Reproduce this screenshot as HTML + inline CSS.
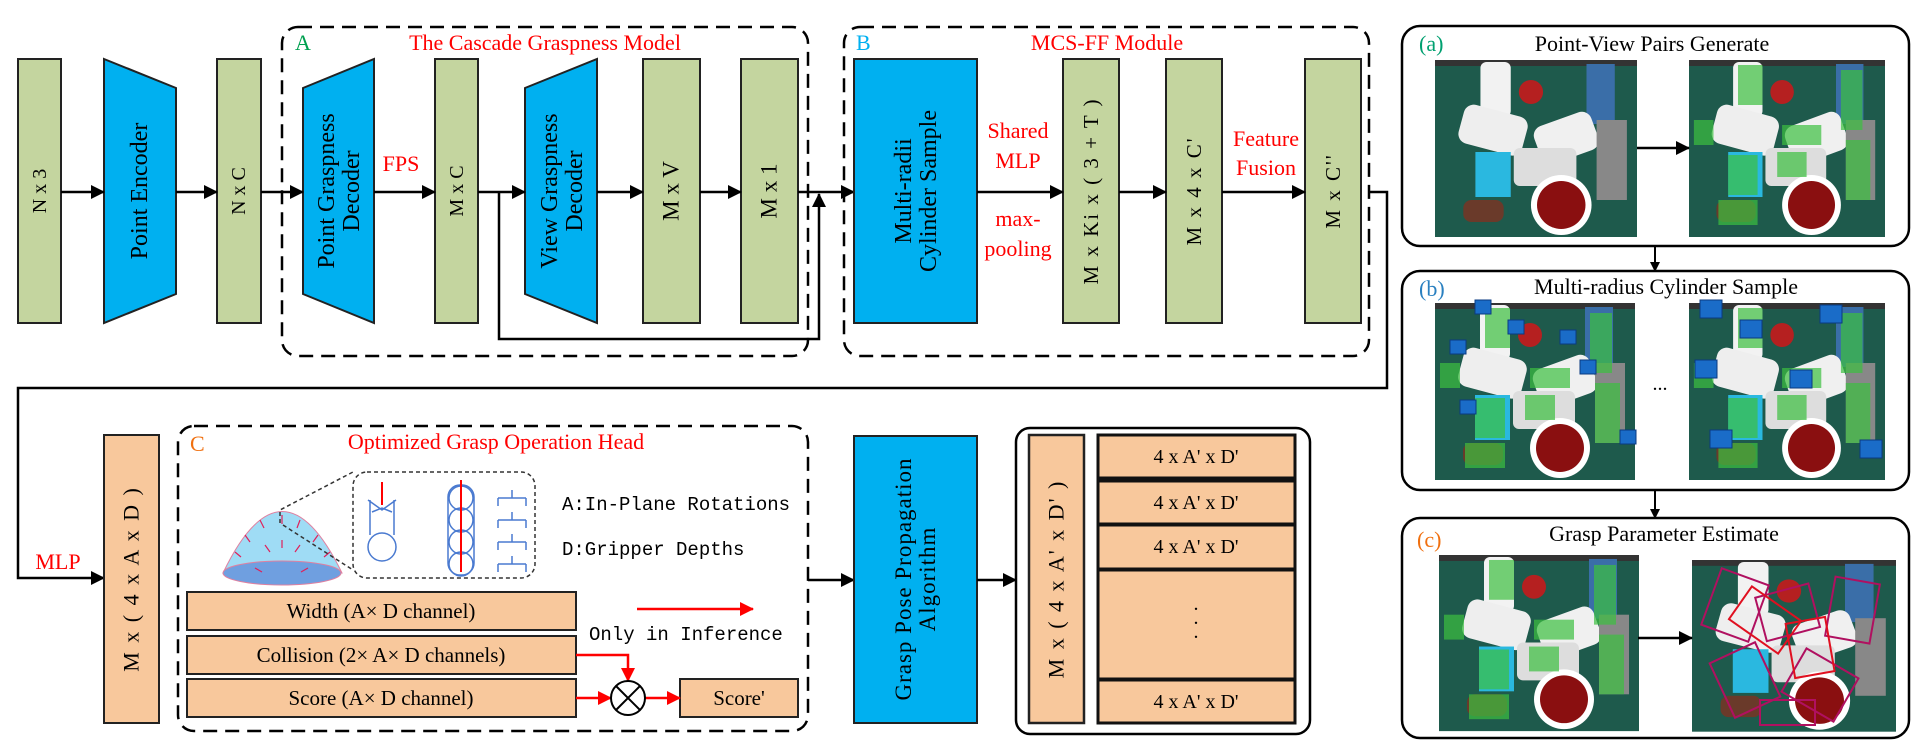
<!DOCTYPE html>
<html><head><meta charset="utf-8"><style>
html,body{margin:0;padding:0;background:#fff;}
svg{display:block;}
text{font-family:"Liberation Serif",serif;}
.m{font-family:"Liberation Mono",monospace;}
</style></head><body>
<svg width="1920" height="756" viewBox="0 0 1920 756" xmlns="http://www.w3.org/2000/svg">
<defs>
<marker id="ah" markerWidth="10" markerHeight="10" refX="9" refY="5" orient="auto" markerUnits="userSpaceOnUse"><path d="M0,0 L10,5 L0,10 z" fill="#000"/></marker>
<marker id="ahb" markerWidth="14" markerHeight="14" refX="13" refY="7" orient="auto" markerUnits="userSpaceOnUse"><path d="M0,0 L14,7 L0,14 z" fill="#000"/></marker>
<marker id="ahr" markerWidth="14" markerHeight="14" refX="13" refY="7" orient="auto" markerUnits="userSpaceOnUse"><path d="M0,0 L14,7 L0,14 z" fill="#f00"/></marker>
<g id="photo">
<rect x="0" y="0" width="200" height="177" fill="#1e5a4c"/>
<rect x="0" y="0" width="200" height="6" fill="#333"/>
<rect x="45" y="2" width="30" height="55" fill="#f2f2f2" rx="6"/>
<circle cx="95" cy="32" r="12" fill="#b52020"/>
<rect x="150" y="4" width="28" height="60" fill="#3a6ea8"/>
<rect x="25" y="50" width="65" height="40" fill="#eee" rx="10" transform="rotate(15 57 70)"/>
<rect x="100" y="58" width="60" height="40" fill="#f0f0f0" rx="10" transform="rotate(-20 130 78)"/>
<rect x="160" y="60" width="30" height="80" fill="#888"/>
<rect x="40" y="92" width="35" height="45" fill="#2ab8e0"/>
<rect x="78" y="88" width="62" height="38" fill="#ddd" rx="6"/>
<circle cx="125" cy="145" r="30" fill="#fff"/>
<circle cx="125" cy="145" r="24" fill="#8a0f10"/>
<rect x="28" y="140" width="40" height="22" fill="#6a3a2a" rx="8"/>
</g>
<g id="greens" fill="#3cc040" opacity="0.7">
<rect x="50" y="5" width="25" height="40"/><rect x="95" y="65" width="40" height="20"/><rect x="155" y="10" width="22" height="60"/>
<rect x="40" y="95" width="30" height="40"/><rect x="160" y="80" width="25" height="60"/><rect x="30" y="140" width="40" height="25"/>
<rect x="90" y="92" width="30" height="25"/><rect x="5" y="60" width="20" height="25"/>
</g>
</defs>

<!-- Top row -->
<rect x="18" y="59" width="43" height="264" fill="#c4d59f" stroke="#222" stroke-width="2"/>
<text transform="translate(40,191) rotate(-90)" text-anchor="middle" dominant-baseline="central" font-size="20">N  x  3</text>
<polygon points="104,59 176,88 176,294 104,323" fill="#00b0f0" stroke="#222" stroke-width="2"/>
<text transform="translate(140,191) rotate(-90)" text-anchor="middle" dominant-baseline="central" font-size="24">Point Encoder</text>
<rect x="217" y="59" width="44" height="264" fill="#c4d59f" stroke="#222" stroke-width="2"/>
<text transform="translate(239,191) rotate(-90)" text-anchor="middle" dominant-baseline="central" font-size="20">N  x  C</text>
<polygon points="303,88 374,59 374,323 303,294" fill="#00b0f0" stroke="#222" stroke-width="2"/>
<text transform="translate(338,191) rotate(-90)" text-anchor="middle" font-size="24"><tspan x="0" y="-4">Point Graspness</tspan><tspan x="0" y="21">Decoder</tspan></text>
<rect x="435" y="59" width="43" height="264" fill="#c4d59f" stroke="#222" stroke-width="2"/>
<text transform="translate(457,191) rotate(-90)" text-anchor="middle" dominant-baseline="central" font-size="20">M  x  C</text>
<polygon points="525,88 597,59 597,323 525,294" fill="#00b0f0" stroke="#222" stroke-width="2"/>
<text transform="translate(561,191) rotate(-90)" text-anchor="middle" font-size="24"><tspan x="0" y="-4">View Graspness</tspan><tspan x="0" y="21">Decoder</tspan></text>
<rect x="643" y="59" width="57" height="264" fill="#c4d59f" stroke="#222" stroke-width="2"/>
<text transform="translate(671,191) rotate(-90)" text-anchor="middle" dominant-baseline="central" font-size="23">M x V</text>
<rect x="741" y="59" width="57" height="264" fill="#c4d59f" stroke="#222" stroke-width="2"/>
<text transform="translate(769,191) rotate(-90)" text-anchor="middle" dominant-baseline="central" font-size="23">M x 1</text>

<g stroke="#000" stroke-width="2.5" fill="none">
<line x1="61" y1="192" x2="104" y2="192" marker-end="url(#ahb)"/>
<line x1="176" y1="192" x2="217" y2="192" marker-end="url(#ahb)"/>
<line x1="261" y1="192" x2="303" y2="192" marker-end="url(#ahb)"/>
<line x1="374" y1="192" x2="435" y2="192" marker-end="url(#ahb)"/>
<line x1="478" y1="192" x2="525" y2="192" marker-end="url(#ahb)"/>
<line x1="597" y1="192" x2="643" y2="192" marker-end="url(#ahb)"/>
<line x1="700" y1="192" x2="741" y2="192" marker-end="url(#ahb)"/>
<line x1="798" y1="192" x2="854" y2="192" marker-end="url(#ahb)"/>
<polyline points="499,192 499,339 819,339 819,194" marker-end="url(#ahb)"/>
</g>
<text x="401" y="171" font-size="22" fill="#f00" text-anchor="middle">FPS</text>

<rect x="282" y="27" width="526" height="329" rx="16" fill="none" stroke="#000" stroke-width="2.5" stroke-dasharray="14 8"/>
<text x="295" y="50" font-size="22" fill="#00a050">A</text>
<text x="545" y="50" font-size="22" fill="#f00" text-anchor="middle">The Cascade Graspness Model</text>

<!-- B -->
<rect x="844" y="27" width="525" height="329" rx="16" fill="none" stroke="#000" stroke-width="2.5" stroke-dasharray="14 8"/>
<text x="856" y="50" font-size="22" fill="#00b0f0">B</text>
<text x="1107" y="50" font-size="22" fill="#f00" text-anchor="middle">MCS-FF Module</text>
<rect x="854" y="59" width="123" height="264" fill="#00b0f0" stroke="#222" stroke-width="2"/>
<text transform="translate(915,191) rotate(-90)" text-anchor="middle" font-size="24"><tspan x="0" y="-4">Multi-radii</tspan><tspan x="0" y="21">Cylinder Sample</tspan></text>
<rect x="1063" y="59" width="56" height="264" fill="#c4d59f" stroke="#222" stroke-width="2"/>
<text transform="translate(1091,191) rotate(-90)" text-anchor="middle" dominant-baseline="central" font-size="21" letter-spacing="2">M x  Ki x ( 3 + T )</text>
<rect x="1166" y="59" width="56" height="264" fill="#c4d59f" stroke="#222" stroke-width="2"/>
<text transform="translate(1194,191) rotate(-90)" text-anchor="middle" dominant-baseline="central" font-size="21" letter-spacing="2">M  x 4 x C'</text>
<rect x="1305" y="59" width="56" height="264" fill="#c4d59f" stroke="#222" stroke-width="2"/>
<text transform="translate(1333,191) rotate(-90)" text-anchor="middle" dominant-baseline="central" font-size="21" letter-spacing="2">M x C''</text>
<g stroke="#000" stroke-width="2.5" fill="none">
<line x1="977" y1="192" x2="1063" y2="192" marker-end="url(#ahb)"/>
<line x1="1119" y1="192" x2="1166" y2="192" marker-end="url(#ahb)"/>
<line x1="1222" y1="192" x2="1305" y2="192" marker-end="url(#ahb)"/>
<polyline points="1369,192 1387,192 1387,388 18,388 18,578 104,578" marker-end="url(#ahb)"/>
</g>
<g font-size="22" fill="#f00" text-anchor="middle">
<text x="1018" y="138">Shared</text><text x="1018" y="168">MLP</text>
<text x="1018" y="226">max-</text><text x="1018" y="256">pooling</text>
<text x="1266" y="146">Feature</text><text x="1266" y="175">Fusion</text>
<text x="58" y="569">MLP</text>
</g>

<!-- C -->
<rect x="104" y="435" width="55" height="288" fill="#f8c89c" stroke="#222" stroke-width="2"/>
<text transform="translate(131,579) rotate(-90)" text-anchor="middle" dominant-baseline="central" font-size="22" letter-spacing="2">M x  ( 4 x A  x D )</text>
<rect x="178" y="426" width="630" height="305" rx="16" fill="none" stroke="#000" stroke-width="2.5" stroke-dasharray="14 8"/>
<text x="190" y="451" font-size="22" fill="#f07010">C</text>
<text x="496" y="449" font-size="22" fill="#f00" text-anchor="middle">Optimized Grasp Operation Head</text>
<!-- dome -->
<path d="M223,573 Q282,450 342,573 Z" fill="#9fdcf5" stroke="#e080a0"/>
<ellipse cx="282" cy="573" rx="59" ry="12" fill="#6f9fe0" stroke="#e080a0"/>
<g stroke="#e0205a" stroke-width="1.2">
<line x1="260" y1="520" x2="264" y2="528"/><line x1="282" y1="515" x2="282" y2="524"/><line x1="300" y1="520" x2="297" y2="528"/>
<line x1="245" y1="535" x2="250" y2="542"/><line x1="318" y1="535" x2="313" y2="542"/><line x1="235" y1="552" x2="241" y2="557"/>
<line x1="330" y1="552" x2="324" y2="557"/><line x1="265" y1="545" x2="270" y2="552"/><line x1="300" y1="545" x2="295" y2="552"/>
<line x1="282" y1="540" x2="282" y2="548"/><line x1="255" y1="568" x2="262" y2="572"/><line x1="308" y1="568" x2="301" y2="572"/>
</g>
<rect x="353" y="472" width="182" height="106" rx="14" fill="none" stroke="#333" stroke-width="1.5" stroke-dasharray="4 3"/>
<polyline points="280,523 280,510 353,472" fill="none" stroke="#333" stroke-width="1.5" stroke-dasharray="4 3"/>
<line x1="283" y1="525" x2="353" y2="570" stroke="#333" stroke-width="1.5" stroke-dasharray="4 3"/>
<g stroke="#4a7ad0" stroke-width="1.5" fill="none">
<circle cx="382" cy="547" r="14"/>
<path d="M368,500 L382,510 L396,500 M372,512 L382,508 L392,512 M370,500 L370,535 M394,500 L394,535"/>
<rect x="448" y="485" width="26" height="90" rx="12"/>
<circle cx="461" cy="498" r="12"/><circle cx="461" cy="520" r="12"/><circle cx="461" cy="542" r="12"/><circle cx="461" cy="564" r="12"/>
<path d="M498,498 h28 M512,490 v8 M498,498 v8 M526,498 v8 M498,520 h28 M512,512 v8 M498,520 v8 M526,520 v8 M498,542 h28 M512,534 v8 M498,542 v8 M526,542 v8 M498,564 h28 M512,556 v8 M498,564 v8 M526,564 v8"/>
</g>
<line x1="382" y1="482" x2="382" y2="505" stroke="#f00" stroke-width="2"/>
<line x1="461" y1="480" x2="461" y2="572" stroke="#f00" stroke-width="2"/>
<text x="562" y="510" font-size="19" class="m">A:In-Plane Rotations</text>
<text x="562" y="555" font-size="19" class="m">D:Gripper Depths</text>
<rect x="187" y="592" width="389" height="38" fill="#f8c89c" stroke="#222" stroke-width="2"/>
<text x="381" y="618" font-size="21" text-anchor="middle">Width (A× D channel)</text>
<rect x="187" y="636" width="389" height="38" fill="#f8c89c" stroke="#222" stroke-width="2"/>
<text x="381" y="662" font-size="21" text-anchor="middle">Collision (2× A× D channels)</text>
<rect x="187" y="679" width="389" height="38" fill="#f8c89c" stroke="#222" stroke-width="2"/>
<text x="381" y="705" font-size="21" text-anchor="middle">Score (A× D channel)</text>
<rect x="680" y="679" width="118" height="38" fill="#f8c89c" stroke="#222" stroke-width="2"/>
<text x="739" y="705" font-size="21" text-anchor="middle">Score'</text>
<line x1="637" y1="609" x2="753" y2="609" stroke="#f00" stroke-width="2.5" marker-end="url(#ahr)"/>
<text x="589" y="640" font-size="19" class="m">Only in Inference</text>
<g stroke="#f00" stroke-width="2.5" fill="none">
<polyline points="576,655 628,655 628,681" marker-end="url(#ahr)"/>
<line x1="576" y1="698" x2="611" y2="698" marker-end="url(#ahr)"/>
<line x1="645" y1="698" x2="680" y2="698" marker-end="url(#ahr)"/>
</g>
<circle cx="628" cy="698" r="17" fill="#fff" stroke="#000" stroke-width="2"/>
<path d="M616,686 L640,710 M640,686 L616,710" stroke="#000" stroke-width="2"/>

<line x1="808" y1="580" x2="854" y2="580" stroke="#000" stroke-width="2.5" marker-end="url(#ahb)"/>
<rect x="854" y="436" width="123" height="287" fill="#00b0f0" stroke="#222" stroke-width="2"/>
<text transform="translate(915,579) rotate(-90)" text-anchor="middle" font-size="23" letter-spacing="1"><tspan x="0" y="-4">Grasp Pose Propagation</tspan><tspan x="0" y="20">Algorithm</tspan></text>
<line x1="977" y1="580" x2="1016" y2="580" stroke="#000" stroke-width="2.5" marker-end="url(#ahb)"/>

<rect x="1016" y="428" width="294" height="306" rx="14" fill="none" stroke="#000" stroke-width="2.5"/>
<rect x="1029" y="435" width="55" height="288" fill="#f8c89c" stroke="#222" stroke-width="2.5"/>
<text transform="translate(1056,579) rotate(-90)" text-anchor="middle" dominant-baseline="central" font-size="22" letter-spacing="2">M x  ( 4 x A' x D' )</text>
<g fill="#f8c89c" stroke="#111" stroke-width="3">
<rect x="1098" y="435" width="197" height="43"/>
<rect x="1098" y="481" width="197" height="43"/>
<rect x="1098" y="525" width="197" height="44"/>
<rect x="1098" y="570" width="197" height="109"/>
<rect x="1098" y="680" width="197" height="43"/>
</g>
<g font-size="20" text-anchor="middle" class="m">
<text x="1196" y="463">4 x A' x D'</text>
<text x="1196" y="509">4 x A' x D'</text>
<text x="1196" y="553">4 x A' x D'</text>
<text x="1196" y="708">4 x A' x D'</text>
</g>
<text x="1196" y="610" font-size="20" text-anchor="middle">.</text>
<text x="1196" y="624" font-size="20" text-anchor="middle">.</text>
<text x="1196" y="638" font-size="20" text-anchor="middle">.</text>

<!-- right panels -->
<rect x="1402" y="26" width="507" height="220" rx="18" fill="none" stroke="#000" stroke-width="2.5"/>
<text x="1419" y="51" font-size="22" fill="#00a070">(a)</text>
<text x="1652" y="51" font-size="22" text-anchor="middle">Point-View Pairs Generate</text>
<use href="#photo" transform="translate(1435,60) scale(1.01,1)"/>
<use href="#photo" transform="translate(1689,60) scale(0.98,1)"/>
<use href="#greens" transform="translate(1689,60) scale(0.98,1)"/>
<line x1="1637" y1="148" x2="1689" y2="148" stroke="#000" stroke-width="2.5" marker-end="url(#ahb)"/>
<line x1="1655" y1="246" x2="1655" y2="271" stroke="#000" stroke-width="2" marker-end="url(#ah)"/>

<rect x="1402" y="271" width="507" height="219" rx="18" fill="none" stroke="#000" stroke-width="2.5"/>
<text x="1419" y="296" font-size="22" fill="#2a80c0">(b)</text>
<text x="1666" y="294" font-size="22" text-anchor="middle">Multi-radius Cylinder Sample</text>
<use href="#photo" transform="translate(1435,303)"/>
<use href="#greens" transform="translate(1435,303)"/>
<use href="#photo" transform="translate(1689,303) scale(0.98,1)"/>
<use href="#greens" transform="translate(1689,303) scale(0.98,1)"/>
<g fill="#1a6cc8" stroke="#0a3a80">
<rect x="1475" y="300" width="16" height="14"/><rect x="1508" y="320" width="16" height="14"/><rect x="1450" y="340" width="16" height="14"/>
<rect x="1560" y="330" width="16" height="14"/><rect x="1580" y="360" width="16" height="14"/><rect x="1460" y="400" width="16" height="14"/>
<rect x="1620" y="430" width="16" height="14"/><rect x="1700" y="300" width="22" height="18"/><rect x="1740" y="320" width="22" height="18"/>
<rect x="1820" y="305" width="22" height="18"/><rect x="1695" y="360" width="22" height="18"/><rect x="1790" y="370" width="22" height="18"/>
<rect x="1860" y="440" width="22" height="18"/><rect x="1710" y="430" width="22" height="18"/>
</g>
<text x="1660" y="390" font-size="20" text-anchor="middle">...</text>
<line x1="1655" y1="490" x2="1655" y2="518" stroke="#000" stroke-width="2" marker-end="url(#ah)"/>

<rect x="1402" y="518" width="507" height="220" rx="18" fill="none" stroke="#000" stroke-width="2.5"/>
<text x="1417" y="547" font-size="22" fill="#f07010">(c)</text>
<text x="1664" y="541" font-size="22" text-anchor="middle">Grasp Parameter  Estimate</text>
<use href="#photo" transform="translate(1439,555) scale(1,0.995)"/>
<use href="#greens" transform="translate(1439,555) scale(1,0.995)"/>
<use href="#photo" transform="translate(1692,560) scale(1.02,0.97)"/>
<g fill="none" stroke="#b01060" stroke-width="2">
<rect x="1710" y="575" width="50" height="60" transform="rotate(20 1735 605)"/>
<rect x="1760" y="590" width="55" height="45" transform="rotate(-15 1787 612)"/>
<rect x="1830" y="580" width="45" height="60" transform="rotate(10 1852 610)"/>
<rect x="1720" y="650" width="50" height="60" transform="rotate(-25 1745 680)"/>
<rect x="1790" y="660" width="60" height="50" transform="rotate(30 1820 685)"/>
<rect x="1760" y="700" width="55" height="25"/>
</g>
<g fill="none" stroke="#e01020" stroke-width="2">
<rect x="1735" y="600" width="60" height="40" transform="rotate(35 1765 620)"/>
<rect x="1790" y="620" width="40" height="55" transform="rotate(-10 1810 647)"/>
</g>
<line x1="1638" y1="638" x2="1692" y2="638" stroke="#000" stroke-width="2.5" marker-end="url(#ahb)"/>
</svg>
</body></html>
